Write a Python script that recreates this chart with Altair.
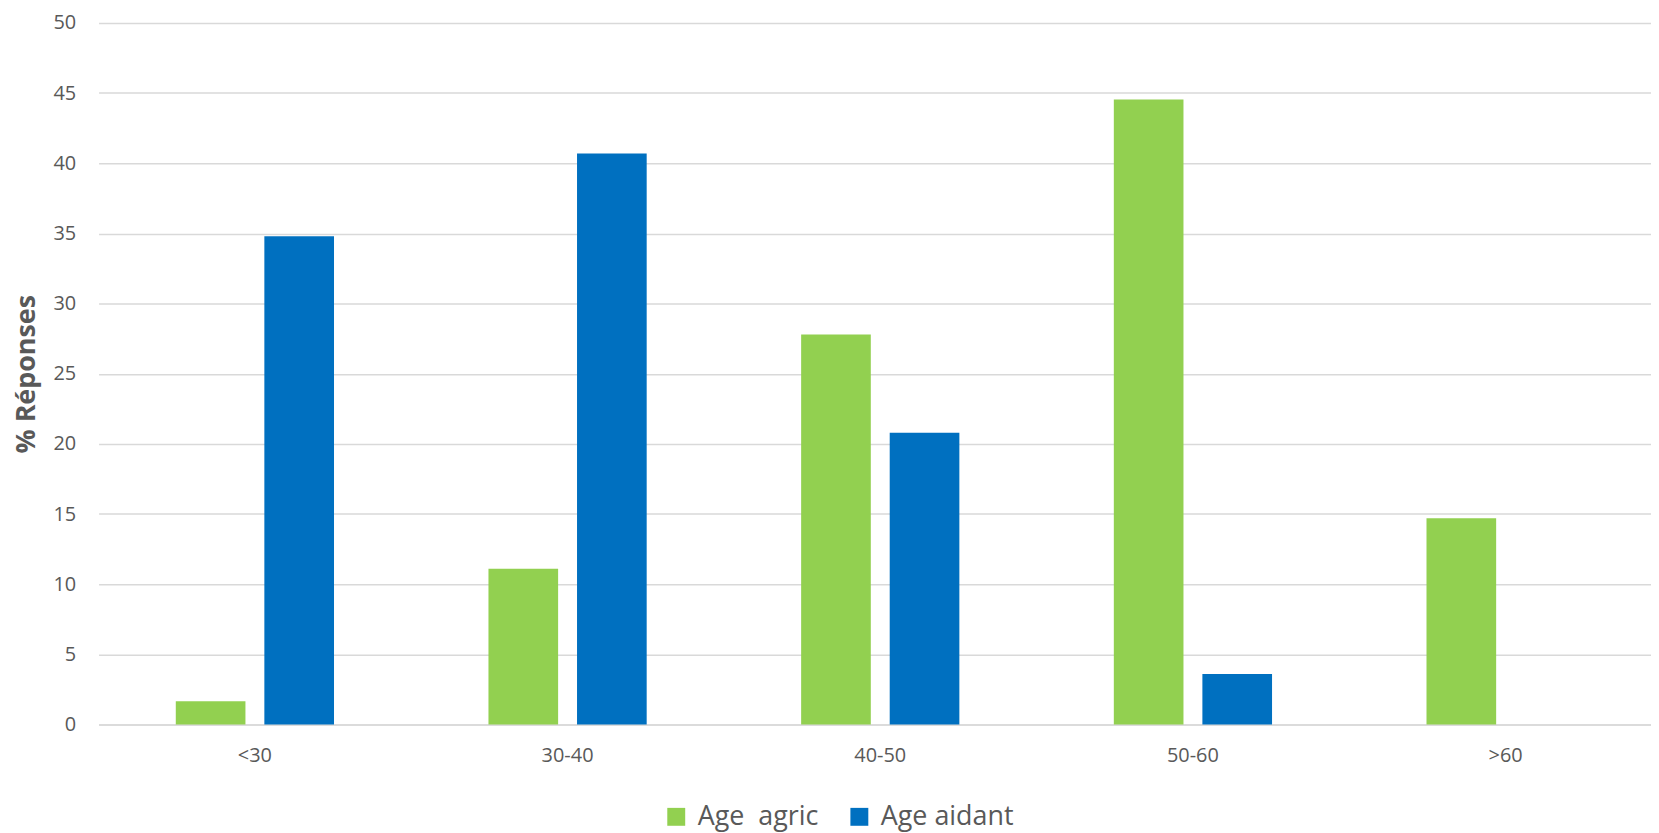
import altair as alt
import pandas as pd

categories = ["<30", "30-40", "40-50", "50-60", ">60"]
series_names = ["Age\u00a0 agric", "Age aidant"]
age_agric = [1.65, 11.1, 27.8, 44.55, 14.7]
age_aidant = [34.8, 40.7, 20.8, 3.6, 0.0]
colors = ["#92d050", "#0070c0"]
y_ticks = [0, 5, 10, 15, 20, 25, 30, 35, 40, 45, 50]

rows = []
for i, c in enumerate(categories):
    rows.append({"cat": c, "series": series_names[0], "value": age_agric[i]})
    rows.append({"cat": c, "series": series_names[1], "value": age_aidant[i]})
df = pd.DataFrame(rows)

font = "Open Sans"
gray = "#595959"

chart = alt.Chart(df).mark_bar().encode(
    x=alt.X("cat:N", sort=categories, title=None,
            scale=alt.Scale(paddingInner=0, paddingOuter=0),
            axis=alt.Axis(labelAngle=0, ticks=False, labelPadding=21, labelFontSize=20,
                          labelColor=gray, labelFont=font, domain=True,
                          domainColor="#d9d9d9", domainWidth=1.5, grid=False)),
    xOffset=alt.XOffset("series:N", sort=series_names,
                        scale=alt.Scale(paddingInner=0.2135, paddingOuter=0.872)),
    y=alt.Y("value:Q", title="% Réponses",
            scale=alt.Scale(domain=[0, 50], nice=False),
            axis=alt.Axis(values=y_ticks, ticks=False, domain=False, labelPadding=23,
                          labelFontSize=20, labelColor=gray, labelFont=font,
                          titleFont=font, titleFontSize=27, titleFontWeight="bold",
                          titleColor=gray, titlePadding=12,
                          gridColor="#d9d9d9", gridWidth=1.5)),
    color=alt.Color("series:N", sort=series_names,
                    scale=alt.Scale(domain=series_names, range=colors),
                    legend=alt.Legend(title=None, orient="none", direction="horizontal",
                                      legendX=567, legendY=784,
                                      symbolType="square", symbolSize=324,
                                      symbolStrokeWidth=0,
                                      labelFontSize=27, labelFont=font, labelColor=gray,
                                      columnPadding=27, symbolOffset=0, labelOffset=8)),
).properties(
    width=1571, height=705,
    autosize=alt.AutoSizeParams(type="none"),
    padding={"left": 91, "top": 13, "right": -11, "bottom": 110},
).configure(background="white").configure_view(stroke=None)

chart.save("out.html", embed_options={"renderer": "svg", "actions": False})
